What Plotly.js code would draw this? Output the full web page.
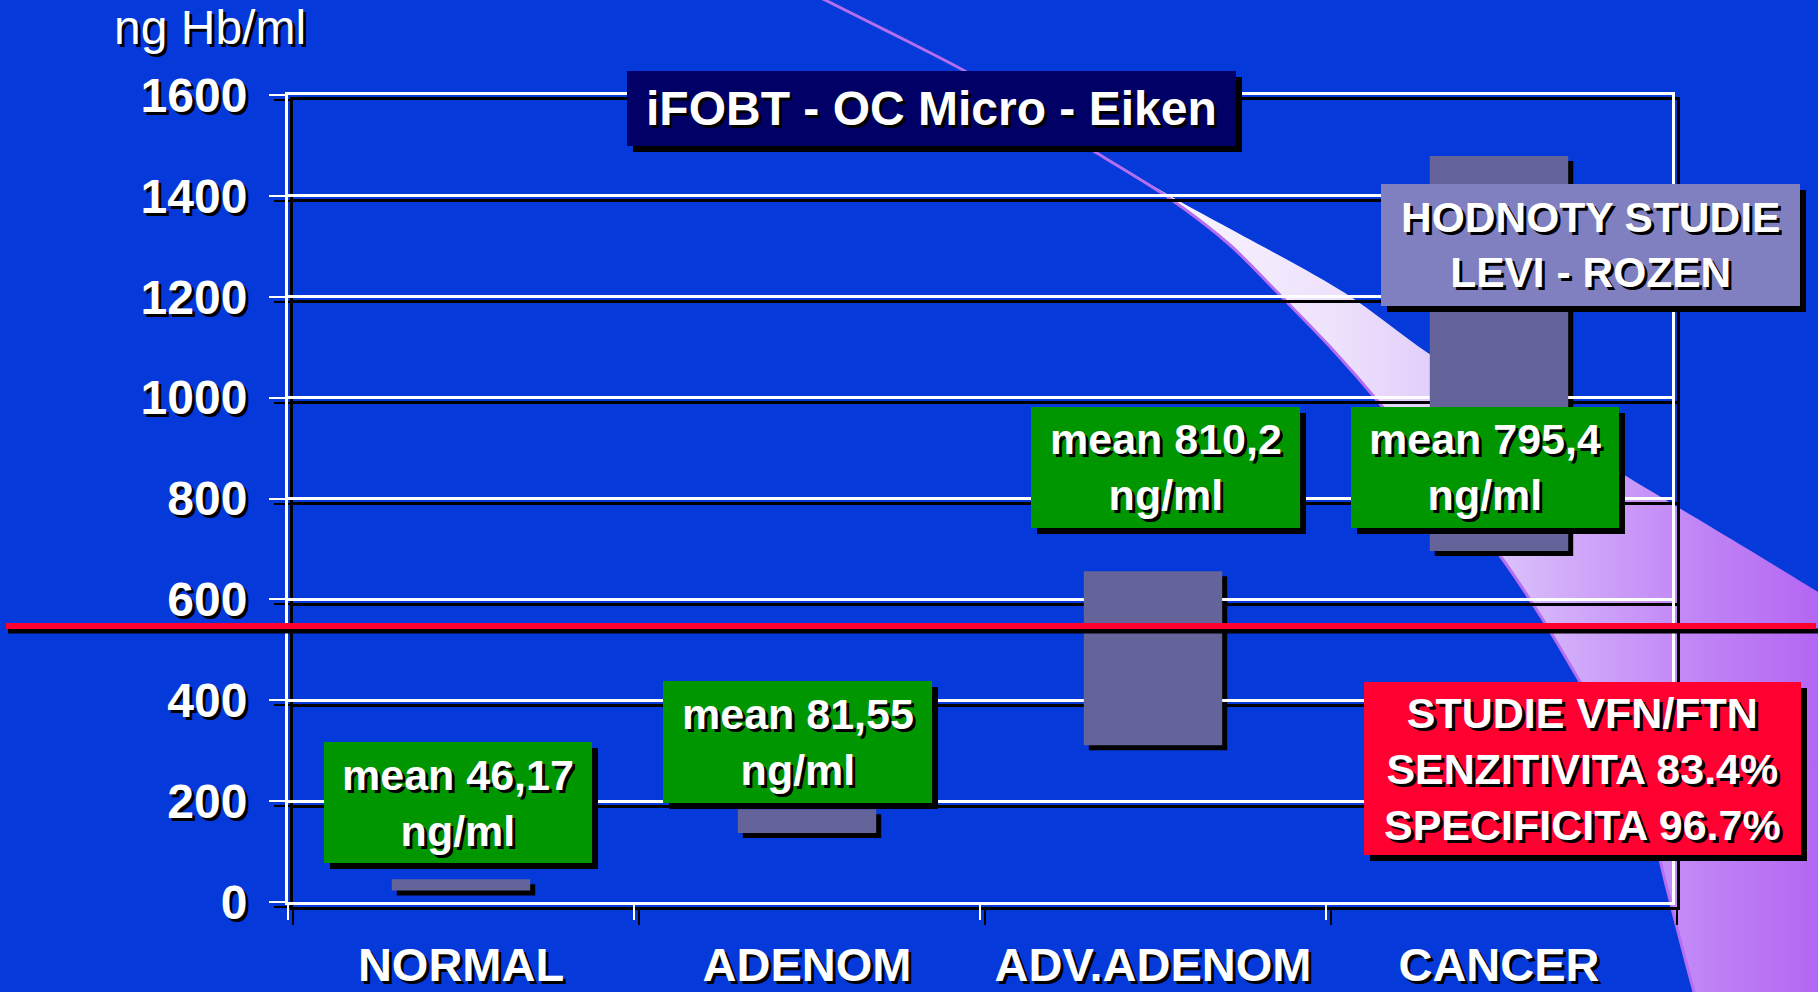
<!DOCTYPE html>
<html>
<head>
<meta charset="utf-8">
<script src="https://cdn.plot.ly/plotly-3.0.1.min.js"></script>
<style>
  html, body { margin: 0; padding: 0; background: #0639da; overflow: hidden; }
  #chart { width: 1818px; height: 992px; }
</style>
</head>
<body>
<div id="chart"></div>
<script>
// ---------------- data ----------------
const categories = ['NORMAL', 'ADENOM', 'ADV.ADENOM', 'CANCER'];
const rangeLow   = [23, 137, 311, 696];
const rangeHigh  = [45, 184, 656, 1479];
const means      = [46.17, 81.55, 810.2, 795.4];
const cutoff     = 547;
const yTicks     = [0, 200, 400, 600, 800, 1000, 1200, 1400, 1600];
const yAxisLabel = 'ng Hb/ml';
const methodLabel = 'iFOBT - OC Micro - Eiken';
const studyRef    = ['HODNOTY STUDIE', 'LEVI - ROZEN'];
const studyName   = 'STUDIE VFN/FTN';
const sensitivity = 83.4;
const specificity = 96.7;

// ---------------- page geometry ----------------
const W = 1818, H = 992;
const FONT = 'Liberation Sans, Arial, Helvetica, sans-serif';
const SH = '3px 3px 0px #000';
const px = x => x / W;
const py = y => 1 - y / H;

const spans = rangeHigh.map((h, i) => h - rangeLow[i]);

// decorative swoosh (pixel space)
const swLeft = [[777,-24],[825,0],[865,20],[905,40],[963,70],[1030,110],[1092,150],[1169,198],[1230,245],[1275,290],
  [1333,350],[1381,405],[1440,480],[1501,557],[1545,623],[1579,680],[1615,740],[1647,800],[1660,860],
  [1675,920],[1694,992],[1708,1040]];
const swRight = [[1900,1040],[1900,640],[1818,592],[1746,548],[1621,473],[1428,353],[1345,293],[1172,197],[1093,150],[1000,92],[965,71],[907,41],[867,20],[827,0],[779,-24]];
const swPoly = swLeft.concat(swRight);

const traces = [
  { // swoosh fill
    type: 'scatter', mode: 'none', xaxis: 'x', yaxis: 'y',
    x: swPoly.map(p => p[0]), y: swPoly.map(p => p[1]),
    line: { shape: 'spline', smoothing: 0.8 },
    fill: 'toself',
    fillgradient: {
      type: 'horizontal', start: 1090, stop: 1818,
      colorscale: [[0, '#ffffff'], [0.33, '#eee2fc'], [0.57, '#dac0fa'], [0.73, '#ca9af8'], [0.84, '#c084f6'], [1, '#b466f2']]
    },
    hoverinfo: 'skip'
  },
  { // swoosh edge
    type: 'scatter', mode: 'lines', xaxis: 'x', yaxis: 'y',
    x: swLeft.map(p => p[0]), y: swLeft.map(p => p[1]),
    line: { color: '#b46ef0', width: 3, shape: 'spline', smoothing: 0.8 }, hoverinfo: 'skip'
  },
  { // bar shadows
    type: 'bar', xaxis: 'x2', yaxis: 'y2',
    x: categories, base: rangeLow, y: spans, width: 0.4,
    marker: { color: '#000000', line: { width: 0 } }, hoverinfo: 'skip'
  },
  { // bars
    type: 'bar', xaxis: 'x3', yaxis: 'y3',
    x: categories, base: rangeLow, y: spans, width: 0.4,
    marker: { color: '#64649a', line: { width: 0 } },
    hovertemplate: '%{x}: %{base} – %{y}<extra></extra>'
  }
];

function xAx(color, dom, anchor, labels) {
  return {
    domain: dom, anchor: anchor, type: 'category', categoryorder: 'array', categoryarray: categories,
    range: [-0.5, 3.5], showgrid: false, zeroline: false,
    showline: true, linecolor: color, linewidth: 3, mirror: true,
    ticks: 'outside', tickson: 'boundaries', ticklen: 15, tickwidth: 2, tickcolor: color,
    showticklabels: labels, ticklabelstandoff: 20,
    tickfont: { family: FONT, size: 47, color: '#ffffff', weight: 'bold', shadow: SH },
    fixedrange: true
  };
}
function yAx(color, dom, anchor, labels) {
  return {
    domain: dom, anchor: anchor, range: [0, 1600], tickmode: 'array', tickvals: yTicks,
    showgrid: true, gridcolor: color, gridwidth: 3, zeroline: false,
    showline: true, linecolor: color, linewidth: 3, mirror: true,
    ticks: 'outside', ticklen: 16, tickwidth: 2, tickcolor: color,
    showticklabels: labels, ticklabelstandoff: 12,
    tickfont: { family: FONT, size: 48, color: '#ffffff', weight: 'bold', shadow: SH },
    fixedrange: true
  };
}

const shapes = [];
const annotations = [];

// red cutoff line with shadow
shapes.push({ type: 'line', layer: 'above', xref: 'paper', yref: 'y2', x0: px(8), x1: 1, y0: cutoff, y1: cutoff,
  line: { color: '#000000', width: 5 } });
shapes.push({ type: 'line', layer: 'above', xref: 'paper', yref: 'y3', x0: px(6), x1: px(1816), y0: cutoff, y1: cutoff,
  line: { color: '#ff0030', width: 6 } });

function box(x0, y0, x1, y1, fill, text, size) {
  shapes.push({ type: 'rect', layer: 'above', xref: 'paper', yref: 'paper',
    x0: px(x0 + 6), x1: px(x1 + 6), y0: py(y1 + 6), y1: py(y0 + 6), fillcolor: '#000000', line: { width: 0 } });
  shapes.push({ type: 'rect', layer: 'above', xref: 'paper', yref: 'paper',
    x0: px(x0), x1: px(x1), y0: py(y1), y1: py(y0), fillcolor: fill, line: { width: 0 } });
  annotations.push({ xref: 'paper', yref: 'paper', x: px((x0 + x1) / 2), y: py((y0 + y1) / 2),
    xanchor: 'center', yanchor: 'middle', showarrow: false, align: 'center', text: text,
    font: { family: FONT, size: size, color: '#ffffff', weight: 'bold', shadow: SH } });
}

const fmt = v => String(v).replace('.', ',');
const meanText = means.map(v => 'mean ' + fmt(v) + '<br>ng/ml');

box(627, 71, 1236, 146, '#000066', methodLabel, 48);
box(1381, 184, 1800, 306, '#8080c0', studyRef.join('<br>'), 42.5);
box(324, 742, 592, 863, '#009600', meanText[0], 43);
box(663, 681, 932, 803, '#009600', meanText[1], 43);
box(1031, 407, 1300, 528, '#009600', meanText[2], 43);
box(1351, 407, 1619, 528, '#009600', meanText[3], 43);
box(1364, 682, 1801, 855, '#ff0030',
  studyName + '<br>SENZITIVITA ' + sensitivity.toFixed(1) + '%<br>SPECIFICITA ' + specificity.toFixed(1) + '%', 43);

annotations.push({ xref: 'paper', yref: 'paper', x: px(210), y: py(27), xanchor: 'center', yanchor: 'middle',
  showarrow: false, text: yAxisLabel,
  font: { family: FONT, size: 48, color: '#ffffff', shadow: SH } });

const layout = {
  width: W, height: H,
  margin: { l: 0, r: 0, t: 0, b: 0, pad: 0 },
  paper_bgcolor: '#0639da', plot_bgcolor: 'rgba(0,0,0,0)',
  showlegend: false,
  xaxis:  { domain: [0, 1], range: [0, W], visible: false, fixedrange: true },
  yaxis:  { domain: [0, 1], range: [H, 0], visible: false, fixedrange: true },
  xaxis2: xAx('#000000', [px(293), px(1677)], 'y2', false),
  yaxis2: yAx('#000000', [1 - 907 / H, 1 - 100 / H], 'x2', false),
  xaxis3: xAx('#ffffff', [px(288), px(1672)], 'y3', true),
  yaxis3: yAx('#ffffff', [1 - 902 / H, 1 - 95 / H], 'x3', true),
  shapes: shapes,
  annotations: annotations
};

Plotly.newPlot('chart', traces, layout, { displayModeBar: false, staticPlot: true });
</script>
</body>
</html>
